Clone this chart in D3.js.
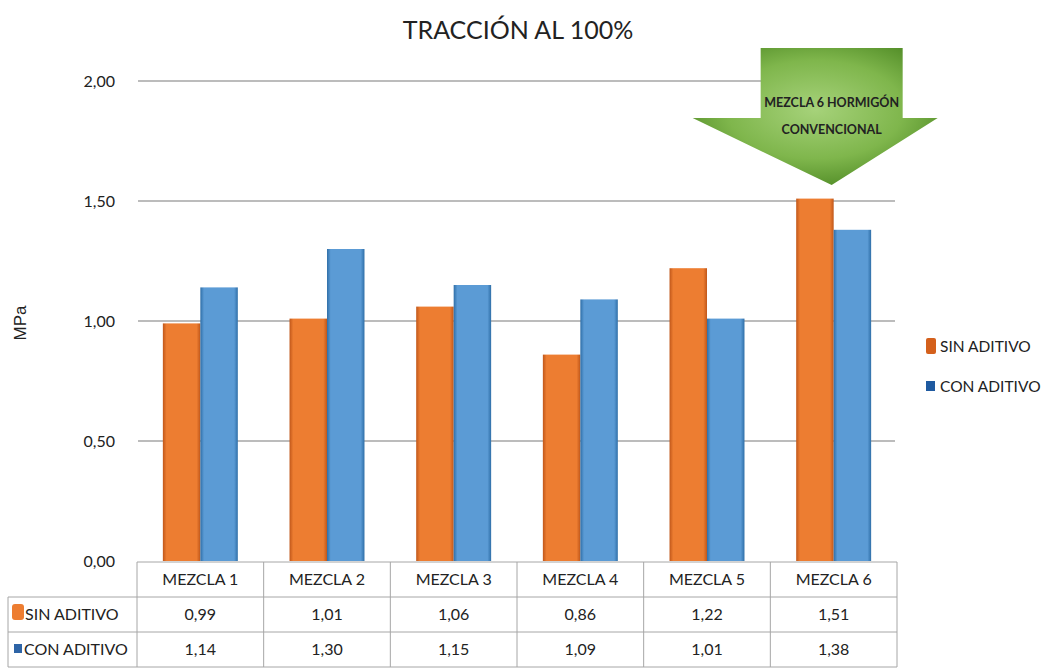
<!DOCTYPE html>
<html>
<head>
<meta charset="utf-8">
<script src="https://cdn.jsdelivr.net/npm/d3@7"></script>
<style>
  body { margin: 0; background: #fff; }
  text { font-family: Lato, "Liberation Sans", sans-serif; fill: #222; }
</style>
</head>
<body>
<script>
// data
var categories = ["MEZCLA 1", "MEZCLA 2", "MEZCLA 3", "MEZCLA 4", "MEZCLA 5", "MEZCLA 6"];
var seriesNames = ["SIN ADITIVO", "CON ADITIVO"];
var sinAditivo = [0.99, 1.01, 1.06, 0.86, 1.22, 1.51];
var conAditivo = [1.14, 1.30, 1.15, 1.09, 1.01, 1.38];
var yTicks = [0, 0.5, 1, 1.5, 2];

var W = 1045, H = 671;
var plotLeft = 137, plotRight = 897, plotTop = 81, plotBottom = 561;
var colors = ["#ED7D31", "#5B9BD5"];
var darks = ["#c0571a", "#2f6fa8"];

var es = d3.formatLocale({decimal: ",", thousands: ".", grouping: [3], currency: ["", "€"]});
var fmt = es.format(".2f");

var svg = d3.select("body").append("svg")
    .attr("width", W)
    .attr("height", H);

var defs = svg.append("defs");
colors.forEach(function(c, i) {
  var g = defs.append("linearGradient").attr("id", "bar" + i)
      .attr("x1", "0").attr("x2", "1").attr("y1", "0").attr("y2", "0");
  g.append("stop").attr("offset", "0").attr("stop-color", darks[i]);
  g.append("stop").attr("offset", "0.1").attr("stop-color", c);
  g.append("stop").attr("offset", "0.9").attr("stop-color", c);
  g.append("stop").attr("offset", "1").attr("stop-color", darks[i]);
});
var rg = defs.append("radialGradient").attr("id", "arrowFill")
    .attr("cx", "0.5").attr("cy", "0.45").attr("r", "0.6");
rg.append("stop").attr("offset", "0").attr("stop-color", "#a6d27a");
rg.append("stop").attr("offset", "0.6").attr("stop-color", "#7fb64c");
rg.append("stop").attr("offset", "1").attr("stop-color", "#4f8a25");

// scales
var x = d3.scaleBand().domain(categories).range([plotLeft, plotRight]).padding(0);
var x1 = d3.scaleBand().domain(seriesNames).range([0, x.bandwidth()])
    .paddingInner(0).paddingOuter(0.69);
var y = d3.scaleLinear().domain([0, 2]).range([plotBottom, plotTop]);

// gridlines
svg.append("g").selectAll("line")
    .data(yTicks.filter(function(d) { return d > 0; }))
  .enter().append("line")
    .attr("x1", plotLeft + 1).attr("x2", plotRight - 2)
    .attr("y1", function(d) { return y(d); })
    .attr("y2", function(d) { return y(d); })
    .attr("stroke", "#a6a6a6").attr("stroke-width", 1.3);

// y axis labels
var yAxis = svg.append("g")
    .attr("transform", "translate(" + (plotLeft - 18) + ",0)")
    .call(d3.axisLeft(y).tickValues(yTicks).tickFormat(fmt).tickSize(0).tickPadding(4));
yAxis.select(".domain").remove();
yAxis.selectAll("text")
    .style("font-family", "Lato, sans-serif")
    .style("font-size", "16px").attr("fill", "#222");

// bars
var series = [sinAditivo, conAditivo];
series.forEach(function(vals, si) {
  svg.append("g").selectAll("rect")
      .data(vals)
    .enter().append("rect")
      .attr("x", function(d, i) { return x(categories[i]) + x1(seriesNames[si]); })
      .attr("width", x1.bandwidth())
      .attr("y", function(d) { return y(d); })
      .attr("height", function(d) { return plotBottom - y(d); })
      .attr("fill", "url(#bar" + si + ")");
});

// title
svg.append("text")
    .attr("x", 518).attr("y", 39)
    .attr("text-anchor", "middle")
    .style("font-size", "25px")
    .text("TRACCIÓN AL 100%");

// y axis title
svg.append("text")
    .attr("transform", "translate(26,323) rotate(-90)")
    .attr("text-anchor", "middle")
    .style("font-family", "'Liberation Sans', Arial, sans-serif")
    .style("font-size", "17px")
    .text("MPa");

// arrow callout above MEZCLA 6
var cx = x("MEZCLA 6") + x.bandwidth() / 2 - 2;
var arrow = [[cx - 71, 48], [cx + 71, 48], [cx + 71, 118], [cx + 106, 118],
             [cx, 185], [cx - 139, 118], [cx - 71, 118]];
svg.append("path")
    .attr("d", d3.line()(arrow) + "Z")
    .attr("fill", "url(#arrowFill)");
svg.append("text")
    .attr("x", cx).attr("y", 107)
    .attr("text-anchor", "middle")
    .style("font-size", "12.5px").style("font-weight", "bold")
    .text("MEZCLA 6 HORMIGÓN");
svg.append("text")
    .attr("x", cx).attr("y", 134)
    .attr("text-anchor", "middle")
    .style("font-size", "12.5px").style("font-weight", "bold")
    .text("CONVENCIONAL");

// data table
var rowTop = [562, 597, 632], rowH = 35, tblLeft = 8;
var tbl = svg.append("g");
var border = "#a6a6a6";
tbl.append("line").attr("x1", plotLeft).attr("x2", plotRight).attr("y1", rowTop[0]).attr("y2", rowTop[0]).attr("stroke", border);
[rowTop[1], rowTop[2], rowTop[2] + rowH].forEach(function(yy) {
  tbl.append("line").attr("x1", tblLeft).attr("x2", plotRight).attr("y1", yy).attr("y2", yy).attr("stroke", border);
});
tbl.append("line").attr("x1", tblLeft).attr("x2", tblLeft).attr("y1", rowTop[1]).attr("y2", rowTop[2] + rowH).attr("stroke", border);
categories.concat([null]).forEach(function(c) {
  var xx = c ? x(c) : plotRight;
  tbl.append("line").attr("x1", xx).attr("x2", xx).attr("y1", rowTop[0]).attr("y2", rowTop[2] + rowH).attr("stroke", border);
});
tbl.selectAll(".hdr").data(categories).enter().append("text")
    .attr("x", function(d) { return x(d) + x.bandwidth() / 2; })
    .attr("y", rowTop[0] + 23)
    .attr("text-anchor", "middle")
    .style("font-size", "16px")
    .text(function(d) { return d; });
series.forEach(function(vals, si) {
  tbl.selectAll(".v" + si).data(vals).enter().append("text")
      .attr("x", function(d, i) { return x(categories[i]) + x.bandwidth() / 2; })
      .attr("y", rowTop[si + 1] + 23)
      .attr("text-anchor", "middle")
      .style("font-size", "16px")
      .text(function(d) { return fmt(d); });
});
tbl.append("rect").attr("x", 12).attr("y", 604).attr("width", 12).attr("height", 16).attr("rx", 3)
    .attr("fill", colors[0]);
tbl.append("rect").attr("x", 14).attr("y", 644).attr("width", 8).attr("height", 9)
    .attr("fill", "#2e64a6");
seriesNames.forEach(function(n, si) {
  tbl.append("text")
      .attr("x", si === 0 ? 25 : 24).attr("y", rowTop[si + 1] + 23)
      .style("font-size", "16px")
      .text(n);
});

// legend on the right
var legend = svg.append("g");
legend.append("rect").attr("x", 926).attr("y", 338).attr("width", 10).attr("height", 16).attr("rx", 2)
    .attr("fill", "#d4601c");
legend.append("rect").attr("x", 926).attr("y", 381).attr("width", 9).attr("height", 10)
    .attr("fill", "#1f5aa0");
seriesNames.forEach(function(n, i) {
  legend.append("text")
      .attr("x", 940).attr("y", i === 0 ? 352 : 392)
      .style("font-size", "15.5px")
      .text(n);
});
</script>
</body>
</html>
